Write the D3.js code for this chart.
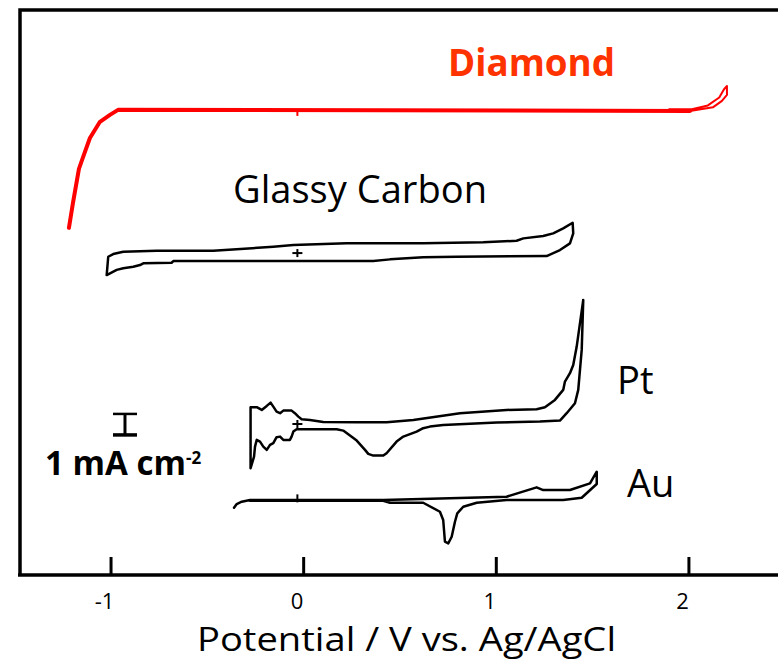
<!DOCTYPE html>
<html><head><meta charset="utf-8">
<script src="https://cdn.jsdelivr.net/npm/d3@7"></script>
<style>body{margin:0;background:#fff}</style>
</head><body>
<svg id="c" width="778" height="664"></svg>
<script>
// ---- data (potential V vs Ag/AgCl, current mA cm^-2 relative to each trace's baseline) ----
const xTicks = [-1, 0, 1, 2];
const tickLabels = ["-1", "0", "1", "2"];
const xTitle = "Potential / V vs. Ag/AgCl";

const seriesNames = ["Diamond", "Glassy Carbon", "Pt", "Au"];
const seriesOffsets = [22.10, 15.14, 7.29, 3.57]; // vertical offsets, mA cm^-2

const diamondV = [-1.216, -1.195, -1.164, -1.144, -1.107, -1.055, -1.003, -0.961, 2.008];
const diamondI = [-5.57, -4.38, -2.76, -2.24, -1.29, -0.52, -0.19, 0.05, 0.0];
const diamondTailV = [1.90, 2.008, 2.127, 2.174, 2.200, 2.200, 2.184, 2.160, 2.101, 2.018, 1.90];
const diamondTailI = [0.0, 0.0, 0.17, 0.48, 0.76, 1.19, 1.02, 0.64, 0.26, 0.08, 0.08];

const gcV = [-1.020, -1.012, -0.986, -0.934, -0.761, -0.467, -0.155, -0.051, 0.226, 0.623, 0.935, 1.108, 1.143, 1.246, 1.298, 1.350, 1.399, 1.402, 1.385, 1.333, 1.264, 0.797, 0.623, 0.451, 0.364, -0.069, -0.674, -0.683, -0.830, -0.847, -0.882, -0.934, -0.968, -1.020];
const gcI = [-0.857, 0.014, 0.143, 0.252, 0.300, 0.300, 0.490, 0.571, 0.652, 0.652, 0.700, 0.776, 0.890, 1.000, 1.129, 1.367, 1.633, 1.129, 0.652, 0.333, 0.048, 0.014, -0.014, -0.110, -0.190, -0.190, -0.190, -0.271, -0.300, -0.381, -0.462, -0.529, -0.610, -0.857];

const ptV = [-0.273, -0.241, -0.215, -0.189, -0.169, -0.155, -0.138, -0.120, -0.103, -0.060, -0.043, -0.025, -0.008, 0.035, 0.104, 0.278, 0.433, 0.572, 0.814, 1.056, 1.212, 1.255, 1.307, 1.350, 1.359, 1.385, 1.402, 1.420, 1.454, 1.446, 1.428, 1.411, 1.368, 1.333, 1.229, 1.005, 0.727, 0.658, 0.623, 0.589, 0.520, 0.485, 0.433, 0.416, 0.364, 0.338, 0.321, 0.278, 0.243, 0.208, 0.174, -0.034, -0.051, -0.060, -0.069, -0.103, -0.120, -0.138, -0.155, -0.172, -0.189, -0.207, -0.224, -0.241, -0.250, -0.255, -0.273, -0.273];
const ptI = [0.700, 0.700, 0.571, 0.762, 0.919, 0.729, 0.490, 0.414, 0.538, 0.538, 0.414, 0.252, 0.129, 0.095, 0.000, -0.014, -0.014, 0.095, 0.414, 0.571, 0.605, 0.700, 1.048, 1.524, 1.919, 2.319, 2.714, 3.586, 5.810, 3.429, 1.524, 0.890, 0.414, 0.062, 0.014, -0.033, -0.143, -0.224, -0.300, -0.462, -0.700, -0.938, -1.490, -1.605, -1.605, -1.524, -1.333, -0.890, -0.652, -0.414, -0.348, -0.348, -0.462, -0.700, -0.857, -0.857, -0.700, -0.729, -1.014, -1.095, -1.333, -1.176, -0.938, -0.857, -1.176, -1.652, -2.205, 0.700];

const auV = [-0.359, -0.345, -0.319, -0.276, 0.416, 1.056, 1.212, 1.246, 1.385, 1.489, 1.524, 1.524, 1.446, 1.350, 1.056, 0.901, 0.831, 0.800, 0.788, 0.771, 0.753, 0.736, 0.727, 0.710, 0.623, 0.451, 0.416, -0.276];
const auI = [-0.367, -0.190, -0.081, 0.000, 0.000, 0.157, 0.605, 0.476, 0.476, 0.795, 1.348, 0.762, 0.110, 0.000, 0.000, -0.129, -0.319, -0.633, -1.033, -1.748, -2.062, -1.986, -0.952, -0.557, -0.129, -0.129, -0.033, -0.033];

const markerV = -0.03; // origin marks on each trace
const scaleBarV = -0.925, scaleBarLow = 6.67, scaleBarSize = 1; // 1 mA cm^-2

// ---- drawing ----
const svg = d3.select("#c");
const x = d3.scaleLinear().domain([-1.47, 2.465]).range([20, 778]);
const y = d3.scaleLinear().domain([0, 565 / 21]).range([575, 10]);
const FONT = "'Open Sans', sans-serif";

function fit(sel, w) {
  const cur = parseFloat(sel.attr("font-size"));
  const len = sel.node().getComputedTextLength();
  sel.attr("font-size", (cur * w / len).toFixed(2));
}

function trace(V, I, off, color, width) {
  const pts = V.map((v, i) => [v, I[i] + off]);
  svg.append("path")
    .attr("d", d3.line().x(d => x(d[0])).y(d => y(d[1]))(pts))
    .attr("fill", "none").attr("stroke", color).attr("stroke-width", width)
    .attr("stroke-linejoin", "round").attr("stroke-linecap", "round");
}

// frame
const axisG = svg.append("g").attr("stroke", "#000").attr("stroke-width", 3.5).attr("fill", "none");
axisG.append("path").attr("d", `M20,575 L20,10 L778,10`).attr("stroke-linejoin", "miter");
axisG.append("line").attr("x1", 18).attr("x2", 778).attr("y1", 575).attr("y2", 575);

// bottom axis ticks (inward), labels drawn separately
const xAxis = d3.axisBottom(x).tickValues(xTicks).tickSize(-18).tickFormat("");
const gx = svg.append("g").attr("transform", "translate(0,575)").call(xAxis);
gx.select(".domain").remove();
gx.selectAll(".tick line").attr("stroke", "#000").attr("stroke-width", 3);

svg.append("g").selectAll("text").data(xTicks).join("text")
  .attr("x", d => x(d) - 6).attr("y", 609)
  .attr("text-anchor", "middle").attr("font-family", FONT).attr("font-size", 22)
  .attr("fill", "#000").text((d, i) => tickLabels[i]);

svg.append("text").attr("x", 197).attr("y", 651).attr("font-family", FONT)
  .attr("font-size", 32).attr("fill", "#000")
  .attr("textLength", 419).attr("lengthAdjust", "spacingAndGlyphs").text(xTitle);

// traces
trace(diamondV, diamondI, seriesOffsets[0], "#ff0000", 4);
trace(diamondTailV, diamondTailI, seriesOffsets[0], "#ff0000", 2);
trace(gcV, gcI, seriesOffsets[1], "#000", 2.5);
trace(ptV, ptI, seriesOffsets[2], "#000", 2.5);
trace(auV, auI, seriesOffsets[3], "#000", 2.5);

// origin markers
svg.append("line").attr("x1", x(markerV)).attr("x2", x(markerV))
  .attr("y1", y(seriesOffsets[0])).attr("y2", y(seriesOffsets[0]) + 5)
  .attr("stroke", "#ff0000").attr("stroke-width", 2);
[[seriesOffsets[1] + 0.19, true], [seriesOffsets[2] - 0.1, true], [seriesOffsets[3] + 0.08, false]].forEach(([v, plus]) => {
  const cx = x(markerV), cy = y(v);
  svg.append("line").attr("x1", cx).attr("x2", cx).attr("y1", cy - 4).attr("y2", cy + 4)
    .attr("stroke", "#000").attr("stroke-width", 2);
  if (plus) svg.append("line").attr("x1", cx - 5).attr("x2", cx + 5).attr("y1", cy).attr("y2", cy)
    .attr("stroke", "#000").attr("stroke-width", 2);
});

// labels
svg.append("text").attr("x", 448).attr("y", 76).attr("font-family", FONT).attr("font-weight", "bold")
  .attr("font-size", 36).attr("fill", "#ff3300").text(seriesNames[0]).call(fit, 167);
const gcLab = svg.append("text").attr("x", 233).attr("y", 203).attr("font-family", FONT)
  .attr("font-size", 36).attr("fill", "#000").text(seriesNames[1]).call(fit, 254);
const fs = gcLab.attr("font-size");
svg.append("text").attr("x", 617).attr("y", 394).attr("font-family", FONT)
  .attr("font-size", fs).attr("fill", "#000").text(seriesNames[2]);
svg.append("text").attr("x", 627).attr("y", 497).attr("font-family", FONT)
  .attr("font-size", fs).attr("fill", "#000").text(seriesNames[3]);

// scale bar
const sbx = x(scaleBarV), sTop = y(scaleBarLow + scaleBarSize), sBot = y(scaleBarLow);
const sb = svg.append("g").attr("stroke", "#000");
sb.append("line").attr("x1", sbx).attr("x2", sbx).attr("y1", sTop).attr("y2", sBot).attr("stroke-width", 3);
sb.append("line").attr("x1", sbx - 12).attr("x2", sbx + 12).attr("y1", sTop).attr("y2", sTop).attr("stroke-width", 2.5);
sb.append("line").attr("x1", sbx - 12).attr("x2", sbx + 12).attr("y1", sBot).attr("y2", sBot).attr("stroke-width", 3.5);
const unit = svg.append("text").attr("x", 45).attr("y", 475).attr("font-family", FONT)
  .attr("font-weight", "bold").attr("font-size", 24).attr("fill", "#000");
unit.append("tspan").text("1 mA cm");
unit.append("tspan").attr("dy", -11).attr("font-size", 17).text("-2");
unit.call(fit, 162);
</script>
</body></html>
